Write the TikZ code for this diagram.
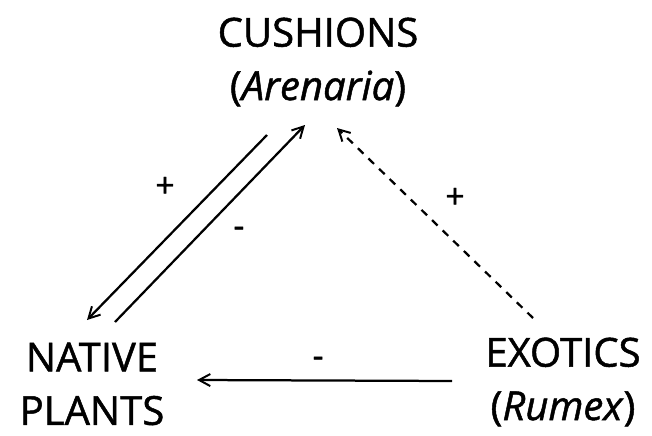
\documentclass[tikz,border=0pt]{standalone}
\usepackage{fontspec}
\setmainfont{Open Sans}[FakeBold=1.2]
\usepackage{tikz}
\usetikzlibrary{arrows.meta,calc}

\begin{document}
\begin{tikzpicture}[
  font=\fontsize{28.5}{38}\selectfont,
  taxon/.style={align=center, inner sep=2pt},
  link/.style={line width=1.6pt, -{Straight Barb[length=2.8mm,width=3mm,line width=1.4pt]}},
  facil/.style={link, dash pattern=on 5.5pt off 5pt},
  sign/.style={font=\fontsize{24}{24}\selectfont, inner sep=0pt}
]
\useasboundingbox (0,0) rectangle (16.3,-10.875);
\node[taxon] (cushions) at (7.95,-1.55) {CUSHIONS\\(\textit{Arenaria})};
\node[taxon] (native) at (2.3,-9.6)     {NATIVE\\PLANTS};
\node[taxon] (exotics) at (14.075,-9.55) {EXOTICS\\(\textit{Rumex})};
% cushions <-> native plants
\draw[link] ([shift={(-1.275,-1.825)}]cushions.center) -- ([shift={(-0.125,1.6)}]native.center);
\draw[link] ([shift={(0.575,1.55)}]native.center) -- ([shift={(-0.325,-1.575)}]cushions.center);
% exotics effects
\draw[facil] ([shift={(-0.75,1.6)}]exotics.center) -- ([shift={(0.475,-1.65)}]cushions.center);
\draw[link] ([shift={(-2.775,0.025)}]exotics.center) -- ([shift={(2.625,0.1)}]native.center);
\node[sign] (plusA) at (4.125,-4.675) {+};
\node[sign] (minusA) at (5.975,-5.8) {-};
\node[sign] (plusB) at (11.375,-4.95) {+};
\node[sign] (minusB) at (7.95,-9.05) {-};
\end{tikzpicture}
\end{document}
